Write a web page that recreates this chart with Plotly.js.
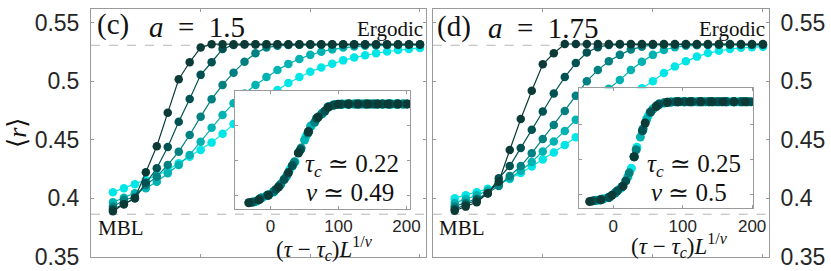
<!DOCTYPE html>
<html>
<head>
<meta charset="utf-8">
<script src="https://cdn.plot.ly/plotly-3.0.1.min.js"></script>
<style>html,body{margin:0;padding:0;background:#fff;}#chart{width:831px;height:271px;}</style>
</head>
<body>
<div id="chart"></div>
<script>
// ---------- data ----------
const tau = [0.02,0.03,0.04,0.05,0.06,0.07,0.08,0.09,0.10,0.11,0.12,0.13,0.14,0.15,0.16,0.17,0.18,0.19,0.20,0.21,0.22,0.23,0.24,0.25,0.26,0.27,0.28,0.29,0.30];
const seriesColors = ['#00e6e6','#00b2b2','#008080','#005252','#0b3a37'];
const ergodicR = 0.5307;
const mblR = 0.3863;

// panel (c), a = 1.5 : <r> vs tau, L1 (smallest, cyan) ... L5 (largest, dark)
const cL1 = [.4051,.4085,.4119,.4156,.4193,.4241,.4299,.4355,.4412,.4475,.455,.4635,.4715,.479,.486,.4925,.4985,.5035,.508,.5118,.515,.5178,.5202,.5222,.5239,.5254,.5266,.5276,.5284];
const cL2 = [.3965,.4004,.4042,.4085,.4141,.4213,.4284,.437,.4483,.4603,.4712,.4812,.4895,.4968,.5035,.5095,.5148,.519,.5225,.5252,.5272,.5287,.5296,.5302,.5306,.5308,.5309,.531,.531];
const cL3 = [.3927,.3985,.401,.4113,.4184,.4284,.4398,.454,.4697,.4846,.4968,.5073,.5167,.5239,.5287,.5302,.5309,.5311,.5312,.5312,.5312,.5312,.5312,.5312,.5312,.5312,.5312,.5312,.5312];
const cL4 = [.3905,.3948,.4,.4133,.4256,.4437,.4654,.4848,.5054,.5162,.5276,.531,.5313,.5313,.5313,.5313,.5313,.5313,.5313,.5313,.5313,.5313,.5313,.5313,.5313,.5313,.5313,.5313,.5313];
const cL5 = [.3888,.3948,.4,.4222,.4444,.4731,.5017,.5162,.5287,.5316,.5316,.5316,.5316,.5316,.5316,.5316,.5316,.5316,.5316,.5316,.5316,.5316,.5316,.5316,.5316,.5316,.5316,.5316,.5316];

// panel (d), a = 1.75
const dL1 = [.4,.4025,.405,.408,.412,.4165,.4215,.427,.433,.439,.4455,.452,.459,.466,.473,.48,.487,.494,.5,.507,.5125,.517,.521,.524,.526,.5275,.5285,.529,.5295];
const dL2 = [.396,.399,.4025,.4065,.4115,.417,.4235,.431,.44,.4485,.4575,.467,.476,.485,.4935,.5011,.5096,.5167,.5225,.5267,.529,.5302,.5307,.5309,.531,.531,.531,.531,.531];
const dL3 = [.393,.396,.3995,.4045,.4105,.419,.4275,.4385,.4505,.4625,.4745,.4875,.5,.5095,.517,.5225,.527,.5295,.531,.5312,.5312,.5312,.5312,.5312,.5312,.5312,.5312,.5312,.5312];
const dL4 = [.3905,.3945,.3985,.404,.417,.4275,.443,.4585,.474,.4895,.5035,.5155,.5245,.529,.531,.5314,.5314,.5314,.5314,.5314,.5314,.5314,.5314,.5314,.5314,.5314,.5314,.5314,.5314];
const dL5 = [.3893,.3928,.3965,.4042,.4141,.4412,.4677,.4919,.5145,.5239,.5318,.5318,.5318,.5318,.5318,.5318,.5318,.5318,.5318,.5318,.5318,.5318,.5318,.5318,.5318,.5318,.5318,.5318,.5318];

// insets: scaling collapse, x = (tau - tau_c) L^(1/nu)
const cInX1 = [-20,-12,-4,4,12,20,28,36,44,52,60,68,76,84,92,100,108,116,124,132,140,148,156,164,172,180,188,196];
const cInY1 = [.3925,.3975,.4005,.405,.413,.4235,.437,.4485,.4655,.4845,.4995,.5105,.5175,.5262,.5295,.5306,.531,.531,.531,.531,.531,.531,.531,.531,.531,.531,.531,.531];
const cInX2 = [-22,-13,-4,5,14,23,32,41,50,59,68,77,86,95,104,113,122,131,140,149,158,167,176,185,194];
const cInY2 = [.3918,.3968,.4005,.4062,.415,.427,.4425,.4615,.4795,.4995,.5105,.5185,.5275,.53,.5307,.531,.531,.531,.531,.531,.531,.531,.531,.531,.531];
const cInX3 = [-25,-15,-5,5,15,25,35,45,55,65,75,85,95,105,115,125,135,145,155,165,175,185,195];
const cInY3 = [.391,.3962,.4005,.406,.4165,.4305,.448,.468,.4895,.505,.5165,.5268,.5299,.5308,.531,.531,.531,.531,.531,.531,.531,.531,.531];
const cInX4 = [-28,-16,-4,8,20,32,44,56,68,80,92,104,116,128,140,152,164,176,188,200];
const cInY4 = [.3905,.395,.4005,.409,.423,.443,.4655,.492,.5105,.521,.5293,.5308,.531,.531,.531,.531,.531,.531,.531,.531];
const cInX5 = [-32,-17.4,-2.8,11.8,26.4,41,55.6,70.2,84.8,99.4,114,128.6,143.2,157.8,172.4,187,201.6];
const cInY5 = [.39,.394,.401,.4125,.433,.461,.491,.5125,.5265,.5305,.531,.531,.531,.531,.531,.531,.531];

const dInX1 = [-22,-14,-6,2,10,18,26,34,42,50,58,66,74,82,90,98,106,114,122,130,138,146,154,162,170,178,186,194];
const dInY1 = [.3915,.3935,.396,.4015,.408,.419,.437,.467,.4905,.511,.5225,.5275,.5302,.5312,.5318,.5318,.5318,.5318,.5318,.5318,.5318,.5318,.5318,.5318,.5318,.5318,.5318,.5318];
const dInX2 = [-24,-15,-6,3,12,21,30,39,48,57,66,75,84,93,102,111,120,129,138,147,156,165,174,183,192];
const dInY2 = [.3915,.393,.3955,.402,.41,.425,.4535,.4815,.5065,.521,.5285,.5305,.5315,.5318,.5318,.5318,.5318,.5318,.5318,.5318,.5318,.5318,.5318,.5318,.5318];
const dInX3 = [-27,-17,-7,3,13,23,33,43,53,63,73,83,93,103,113,123,133,143,153,163,173,183,193];
const dInY3 = [.391,.393,.3955,.402,.411,.4305,.4635,.4935,.5165,.527,.5303,.5315,.5318,.5318,.5318,.5318,.5318,.5318,.5318,.5318,.5318,.5318,.5318];
const dInX4 = [-30,-18,-6,6,18,30,42,54,66,78,90,102,114,126,138,150,162,174,186,198];
const dInY4 = [.3905,.3925,.3955,.405,.419,.4535,.4905,.5175,.5285,.531,.5318,.5318,.5318,.5318,.5318,.5318,.5318,.5318,.5318,.5318];
const dInX5 = [-34,-18,-2,14,30,46,62,78,94,110,126,142,158,174,190];
const dInY5 = [.3897,.392,.3985,.4115,.4535,.5015,.525,.531,.5318,.5318,.5318,.5318,.5318,.5318,.5318];

const yTicks = [0.35,0.4,0.45,0.5,0.55];
const yTickText = ['0.35','0.4','0.45','0.5','0.55'];
const tauTicks = [0,0.1,0.2,0.3];
const insetXTicks = [0,100,200];
const insetYTicks = [0.4,0.45,0.5];
const panelLabels = ['(c)','(d)'];
const aLabels = ['<i>a</i>&nbsp;&nbsp;=&nbsp;&nbsp;1.5','<i>a</i>&nbsp;&nbsp;=&nbsp;&nbsp;1.75'];
const tcLabels = ['<i>τ</i><sub><i>c</i></sub>&nbsp;≃&nbsp;0.22','<i>τ</i><sub><i>c</i></sub>&nbsp;≃&nbsp;0.25'];
const nuLabels = ['<i>ν</i>&nbsp;≃&nbsp;0.49','<i>ν</i>&nbsp;≃&nbsp;0.5'];

// ---------- build ----------
const W = 831, H = 271;
const px = x => x / W;
const py = y => 1 - y / H;
const serif = 'Liberation Serif, DejaVu Serif, Times New Roman, serif';
const sans = 'Liberation Sans, Arial, sans-serif';
const axisGray = '#9a9a9a';
const txt = '#262626';

const traces = [];
const mainC = [cL1,cL2,cL3,cL4,cL5];
const mainD = [dL1,dL2,dL3,dL4,dL5];
[mainC, mainD].forEach((set, p) => {
  set.forEach((ys, i) => {
    traces.push({
      x: tau, y: ys, type: 'scatter', mode: 'lines+markers',
      xaxis: p === 0 ? 'x' : 'x2', yaxis: p === 0 ? 'y' : 'y2',
      line: {color: seriesColors[i], width: 1.2},
      marker: {color: seriesColors[i], size: 8.5},
      hoverinfo: 'skip', showlegend: false, cliponaxis: false
    });
  });
});
const insC = [[cInX1,cInY1],[cInX2,cInY2],[cInX3,cInY3],[cInX4,cInY4],[cInX5,cInY5]];
const insD = [[dInX1,dInY1],[dInX2,dInY2],[dInX3,dInY3],[dInX4,dInY4],[dInX5,dInY5]];
[insC, insD].forEach((set, p) => {
  set.forEach((s, i) => {
    traces.push({
      x: s[0], y: s[1], type: 'scatter', mode: 'markers',
      xaxis: p === 0 ? 'x3' : 'x4', yaxis: p === 0 ? 'y3' : 'y4',
      marker: {color: seriesColors[i], size: 9},
      hoverinfo: 'skip', showlegend: false
    });
  });
});

const mainAxisCommon = {
  showline: true, linecolor: axisGray, linewidth: 1, mirror: 'ticks',
  ticks: 'inside', ticklen: 3, tickcolor: axisGray, showgrid: false, zeroline: false, fixedrange: true
};
const mainX = Object.assign({}, mainAxisCommon, {range: [0, 0.3055], tickvals: tauTicks, showticklabels: false});
const mainY = Object.assign({}, mainAxisCommon, {
  range: [0.35, 0.5617], tickvals: yTicks, ticktext: yTickText,
  tickfont: {family: sans, size: 23, color: txt}, ticklabelstandoff: 6
});
const insetX = Object.assign({}, mainAxisCommon, {
  tickvals: insetXTicks, ticktext: insetXTicks.map(String),
  tickfont: {family: sans, size: 17, color: txt}, ticklabelstandoff: 2
});
const insetY = Object.assign({}, mainAxisCommon, {tickvals: insetYTicks, showticklabels: false});

const layout = {
  width: W, height: H,
  margin: {l: 0, r: 0, t: 0, b: 0, pad: 0},
  paper_bgcolor: '#fff', plot_bgcolor: '#fff',
  showlegend: false,
  xaxis: Object.assign({}, mainX, {domain: [px(91), px(426)], anchor: 'y'}),
  yaxis: Object.assign({}, mainY, {domain: [py(256.7), py(9)], anchor: 'x', side: 'left'}),
  xaxis2: Object.assign({}, mainX, {domain: [px(432.7), px(769)], anchor: 'y2'}),
  yaxis2: Object.assign({}, mainY, {domain: [py(256.7), py(9)], anchor: 'x2', side: 'right'}),
  xaxis3: Object.assign({}, insetX, {domain: [px(235), px(410)], anchor: 'y3', range: [-52.2, 205.1]}),
  yaxis3: Object.assign({}, insetY, {domain: [py(209), py(91)], anchor: 'x3', range: [0.381, 0.5496]}),
  xaxis4: Object.assign({}, insetX, {domain: [px(579), px(753.3)], anchor: 'y4', range: [-49.4, 201.7]}),
  yaxis4: Object.assign({}, insetY, {domain: [py(208.3), py(88.3)], anchor: 'x4', range: [0.38, 0.551]}),
  shapes: [],
  annotations: []
};

[['x','y'],['x2','y2']].forEach(ax => {
  [ergodicR, mblR].forEach(v => {
    layout.shapes.push({type: 'line', xref: ax[0] + ' domain', yref: ax[1], x0: 0, x1: 1, y0: v, y1: v,
      line: {color: '#b5b5b5', width: 1, dash: 'dash'}, layer: 'below'});
  });
});

function ann(text, x, y, size, xanchor, opts) {
  return Object.assign({text: text, xref: 'paper', yref: 'paper', x: px(x), y: py(y),
    xanchor: xanchor || 'left', yanchor: 'middle', showarrow: false,
    font: {family: serif, size: size, color: '#111'}}, opts || {});
}
const A = layout.annotations;
A.push(ann(panelLabels[0], 95, 25, 29));
A.push(ann(aLabels[0], 147, 27, 29));
A.push(ann(panelLabels[1], 435, 27, 29));
A.push(ann(aLabels[1], 486, 28, 29));
A.push(ann('Ergodic', 425, 29, 21, 'right'));
A.push(ann('Ergodic', 767, 29, 21, 'right'));
A.push(ann('MBL', 96, 228, 21));
A.push(ann('MBL', 437, 228, 21));
A.push(ann('⟨<i>r</i>⟩', 17, 133, 26, 'center', {textangle: -90}));
A.push(ann(tcLabels[0], 352, 165, 25, 'center'));
A.push(ann(nuLabels[0], 350, 192, 25, 'center'));
A.push(ann(tcLabels[1], 694, 165, 25, 'center'));
A.push(ann(nuLabels[1], 689, 192, 25, 'center'));
const insetTitle = '(<i>τ</i>&nbsp;−&nbsp;<i>τ</i><sub><i>c</i></sub>)<i>L</i><sup>1/<i>ν</i></sup>';
A.push(ann(insetTitle, 324, 248, 23, 'center'));
A.push(ann(insetTitle, 679, 245, 23, 'center'));

Plotly.newPlot('chart', traces, layout, {staticPlot: true, displayModeBar: false});
</script>
</body>
</html>
